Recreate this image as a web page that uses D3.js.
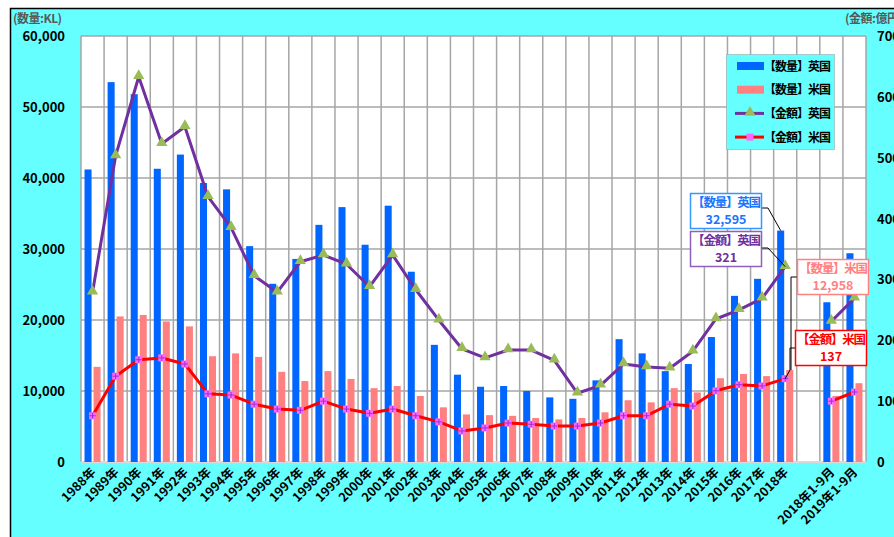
<!DOCTYPE html>
<html>
<head>
<meta charset="utf-8">
<script src="https://cdn.jsdelivr.net/npm/d3@7"></script>
<style>
  body { margin: 0; background: #fff; }
  text { font-family: "Noto Sans CJK JP", "Noto Sans", sans-serif; font-weight: bold; }
</style>
</head>
<body>
<script>
var categories = ['1988年','1989年','1990年','1991年','1992年','1993年','1994年','1995年','1996年','1997年',
  '1998年','1999年','2000年','2001年','2002年','2003年','2004年','2005年','2006年','2007年',
  '2008年','2009年','2010年','2011年','2012年','2013年','2014年','2015年','2016年','2017年','2018年',
  '', '2018年1-9月', '2019年1-9月'];

// 数量 (KL)
var qtyUK = [41200,53500,51800,41300,43300,39300,38400,30400,25100,28600,
  33400,35900,30600,36100,26800,16500,12300,10600,10700,10000,
  9100,8900,11500,17300,15300,12800,13800,17600,23400,25800,32595,
  null,22500,29400];
var qtyUS = [13400,20500,20700,19800,19100,14900,15300,14800,12700,11400,
  12800,11700,10400,10700,9300,7700,6700,6600,6500,6200,
  6000,6200,7000,8700,8400,10400,9800,11800,12400,12100,12958,
  null,9300,11100];

// 金額 (億円)
var amtUK = [279,503,633,523,551,436,385,306,279,329,
  340,325,288,340,283,233,186,171,184,184,
  167,113,126,161,156,154,182,235,250,269,321,
  null,231,269];
var amtUS = [76,141,168,171,161,112,110,95,87,85,
  100,87,80,87,76,66,51,56,64,62,
  59,59,64,76,76,95,92,117,127,125,137,
  null,100,115];

var leftTicks = [0,10000,20000,30000,40000,50000,60000];
var rightTicks = [0,100,200,300,400,500,600,700];

var W = 894, H = 537;
var plot = { left: 81, right: 866, top: 36, bottom: 462 };

var svg = d3.select('body').append('svg').attr('width', W).attr('height', H);

svg.append('rect').attr('x', 10).attr('y', 8).attr('width', W - 10).attr('height', H - 8).attr('fill', '#66FFFF');
svg.append('path').attr('d', 'M10.5,' + H + 'V8.5H' + W).attr('fill', 'none').attr('stroke', '#000').attr('stroke-width', 1.5);

var x0 = d3.scaleBand().domain(categories).range([plot.left, plot.right]);
var x1 = d3.scaleBand().domain(['uk', 'us']).range([0, x0.bandwidth()]).paddingInner(0.22).paddingOuter(0.39);
var yL = d3.scaleLinear().domain([0, 60000]).range([plot.bottom, plot.top]);
var yR = d3.scaleLinear().domain([0, 700]).range([plot.bottom, plot.top]);

svg.append('rect').attr('x', plot.left).attr('y', plot.top)
  .attr('width', plot.right - plot.left).attr('height', plot.bottom - plot.top).attr('fill', '#fff');

// grid
svg.append('g').selectAll('line').data(leftTicks).enter().append('line')
  .attr('x1', plot.left).attr('x2', plot.right)
  .attr('y1', function(d) { return yL(d); }).attr('y2', function(d) { return yL(d); })
  .attr('stroke', '#A6A6A6').attr('stroke-width', 1.5);
svg.append('g').selectAll('line').data(categories).enter().append('line')
  .attr('x1', function(d) { return x0(d); }).attr('x2', function(d) { return x0(d); })
  .attr('y1', plot.top).attr('y2', plot.bottom)
  .attr('stroke', '#A6A6A6').attr('stroke-width', 1.5);
svg.append('line').attr('x1', plot.right).attr('x2', plot.right).attr('y1', plot.top).attr('y2', plot.bottom)
  .attr('stroke', '#A6A6A6').attr('stroke-width', 1.5);
svg.append('line').attr('x1', plot.left).attr('x2', plot.right).attr('y1', plot.bottom).attr('y2', plot.bottom)
  .attr('stroke', '#D9D9D9').attr('stroke-width', 2);

// bars
function barData(vals) {
  return vals.map(function(v, i) { return { c: categories[i], v: v }; }).filter(function(d) { return d.v != null; });
}
[['uk', qtyUK, '#0066FF'], ['us', qtyUS, '#FF8080']].forEach(function(s) {
  svg.append('g').selectAll('rect').data(barData(s[1])).enter().append('rect')
    .attr('x', function(d) { return x0(d.c) + x1(s[0]); })
    .attr('width', x1.bandwidth())
    .attr('y', function(d) { return yL(d.v); })
    .attr('height', function(d) { return plot.bottom - yL(d.v); })
    .attr('fill', s[2]);
});

// lines
var cx = function(c) { return x0(c) + x0.bandwidth() / 2; };
function lineData(vals) { return vals.map(function(v, i) { return { c: categories[i], v: v }; }); }
var line = d3.line().defined(function(d) { return d.v != null; })
  .x(function(d) { return cx(d.c); }).y(function(d) { return yR(d.v); });

svg.append('path').datum(lineData(amtUK)).attr('d', line)
  .attr('fill', 'none').attr('stroke', '#7030A0').attr('stroke-width', 3).attr('stroke-linejoin', 'round');
svg.append('g').selectAll('path').data(lineData(amtUK).filter(function(d) { return d.v != null; })).enter().append('path')
  .attr('d', d3.symbol().type(d3.symbolTriangle).size(55))
  .attr('transform', function(d) { return 'translate(' + cx(d.c) + ',' + (yR(d.v) - 1) + ')'; })
  .attr('fill', '#9BBB59');

svg.append('path').datum(lineData(amtUS)).attr('d', line)
  .attr('fill', 'none').attr('stroke', '#FF0000').attr('stroke-width', 3).attr('stroke-linejoin', 'round');
var usPts = svg.append('g').selectAll('g').data(lineData(amtUS).filter(function(d) { return d.v != null; })).enter().append('g')
  .attr('transform', function(d) { return 'translate(' + cx(d.c) + ',' + yR(d.v) + ')'; });
usPts.append('rect').attr('x', -3.5).attr('y', -3.5).attr('width', 7).attr('height', 7).attr('fill', '#FF66FF');
usPts.append('path').attr('d', 'M-3,0H3M0,-3V3').attr('stroke', '#9933CC').attr('stroke-width', 1);

// axes labels
svg.append('g').selectAll('text').data(leftTicks).enter().append('text')
  .attr('x', 65).attr('y', function(d) { return yL(d) + 5; })
  .attr('text-anchor', 'end').attr('font-size', 13).text(d3.format(','));
svg.append('g').selectAll('text').data(rightTicks).enter().append('text')
  .attr('x', 877).attr('y', function(d) { return yR(d) + 5; })
  .attr('font-size', 13).text(function(d) { return d; });
svg.append('text').attr('x', 13).attr('y', 23).attr('font-size', 12).attr('letter-spacing', -0.5)
  .attr('fill', '#595959').text('(数量:KL)');
svg.append('text').attr('x', 845).attr('y', 23).attr('font-size', 12).attr('letter-spacing', -0.5)
  .attr('fill', '#595959').text('(金額:億円)');

svg.append('g').selectAll('text').data(categories).enter().append('text')
  .attr('transform', function(d) { return 'translate(' + (cx(d) + 4) + ',473) rotate(-45)'; })
  .attr('text-anchor', 'end').attr('font-size', 12.5).text(function(d) { return d; });

// legend
var lg = svg.append('g');
lg.append('rect').attr('x', 726.5).attr('y', 54.5).attr('width', 108).attr('height', 95)
  .attr('fill', '#66FFFF').attr('stroke', '#999').attr('stroke-dasharray', '1,1');
var legendItems = [
  { label: '【数量】英国', color: '#0066FF', type: 'bar' },
  { label: '【数量】米国', color: '#FF8080', type: 'bar' },
  { label: '【金額】英国', color: '#7030A0', type: 'tri' },
  { label: '【金額】米国', color: '#FF0000', type: 'sq' }
];
var li = lg.selectAll('g').data(legendItems).enter().append('g')
  .attr('transform', function(d, i) { return 'translate(0,' + (66 + i * 23.7) + ')'; });
li.filter(function(d) { return d.type === 'bar'; }).append('rect')
  .attr('x', 737).attr('y', -4).attr('width', 27).attr('height', 8).attr('fill', function(d) { return d.color; });
li.filter(function(d) { return d.type !== 'bar'; }).append('line')
  .attr('x1', 735).attr('x2', 764).attr('y1', 0).attr('y2', 0)
  .attr('stroke', function(d) { return d.color; }).attr('stroke-width', 3);
li.filter(function(d) { return d.type === 'tri'; }).append('path')
  .attr('d', d3.symbol().type(d3.symbolTriangle).size(55)).attr('transform', 'translate(750,-1)').attr('fill', '#9BBB59');
li.filter(function(d) { return d.type === 'sq'; }).append('rect')
  .attr('x', 746.5).attr('y', -3.5).attr('width', 7).attr('height', 7).attr('fill', '#FF66FF');
li.append('text').attr('x', 764).attr('y', 4.5).attr('font-size', 12).attr('letter-spacing', -1)
  .text(function(d) { return d.label; });

// data callouts for 2018
var c18 = '2018年';
var callouts = [
  { t: '【数量】英国', v: d3.format(',')(qtyUK[30]), color: '#1A75FF', border: '#3399FF', x: 690, y: 193,
    path: [[761, 208], [768, 208], [x0(c18) + x1('uk') + x1.bandwidth() / 2, yL(qtyUK[30])]] },
  { t: '【金額】英国', v: amtUK[30], color: '#7030A0', border: '#8E5FBF', x: 690, y: 231,
    path: [[761, 248], [768, 248], [cx(c18), yR(amtUK[30])]] },
  { t: '【数量】米国', v: d3.format(',')(qtyUS[30]), color: '#FF8080', border: '#FF8080', x: 797, y: 259,
    path: [[797, 277], [791, 277], [791, yL(qtyUS[30])]] },
  { t: '【金額】米国', v: amtUS[30], color: '#FF0000', border: '#FF0000', x: 795, y: 330,
    path: [[795, 348], [790, 348], [790, 370], [cx(c18), yR(amtUS[30])]] }
];
var co = svg.append('g').selectAll('g').data(callouts).enter().append('g');
co.append('path').attr('d', function(d) { return d3.line()(d.path); })
  .attr('fill', 'none').attr('stroke', '#000').attr('stroke-width', 1);
co.append('rect').attr('x', function(d) { return d.x + 0.5; }).attr('y', function(d) { return d.y + 0.5; })
  .attr('width', 71).attr('height', 35).attr('fill', '#fff')
  .attr('stroke', function(d) { return d.border; }).attr('stroke-width', 1.5);
co.append('text').attr('x', function(d) { return d.x + 36; }).attr('y', function(d) { return d.y + 14; })
  .attr('text-anchor', 'middle').attr('font-size', 12.5).attr('letter-spacing', -1.2).attr('fill', function(d) { return d.color; })
  .text(function(d) { return d.t; });
co.append('text').attr('x', function(d) { return d.x + 36; }).attr('y', function(d) { return d.y + 31; })
  .attr('text-anchor', 'middle').attr('font-size', 12.5).attr('fill', function(d) { return d.color; })
  .text(function(d) { return d.v; });
</script>
</body>
</html>
